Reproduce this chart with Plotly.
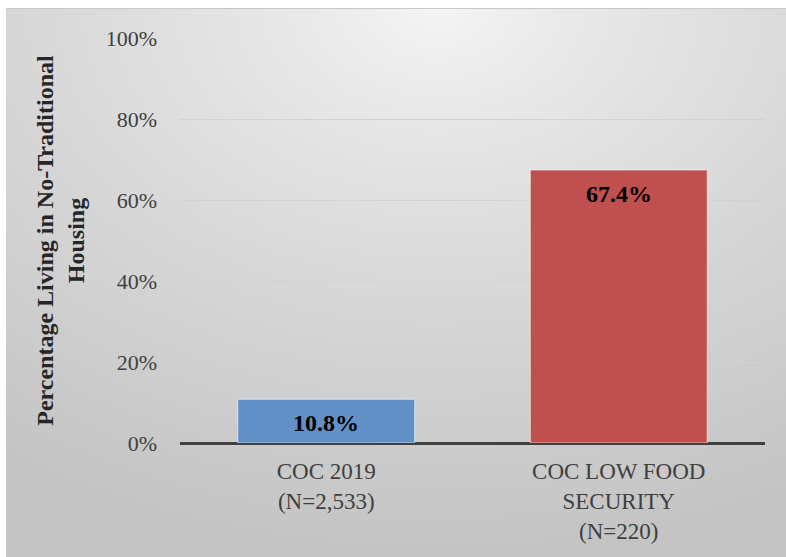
import base64, struct, zlib
import numpy as np
import plotly.graph_objects as go

categories = ["COC 2019<br>(N=2,533)", "COC LOW FOOD<br>SECURITY<br>(N=220)"]
values = [10.8, 67.4]
labels = ["10.8%", "67.4%"]
bar_colors = ["#6290c6", "#c0504f"]
tick_vals = [0, 20, 40, 60, 80, 100]
tick_text = ["0%", "20%", "40%", "60%", "80%", "100%"]

# background gradient image (style only)
W, H = 200, 140
yy, xx = np.mgrid[0:H, 0:W].astype(float)
cx, cy = 0.55 * W, 0.0 * H
d = np.sqrt(((xx - cx) / W) ** 2 + ((yy - cy) / H) ** 2)
d = np.clip(d / 1.0, 0, 1)
v = (246 - (246 - 196) * d ** 0.8).astype(np.uint8)
raw = b"".join(b"\x00" + bytes(np.stack([v[r], v[r], v[r]], axis=1).flatten()) for r in range(H))
def chunk(t, data):
    c = struct.pack(">I", len(data)) + t + data
    return c + struct.pack(">I", zlib.crc32(t + data) & 0xffffffff)
png = b"\x89PNG\r\n\x1a\n" + chunk(b"IHDR", struct.pack(">IIBBBBB", W, H, 8, 2, 0, 0, 0)) + chunk(b"IDAT", zlib.compress(raw)) + chunk(b"IEND", b"")
uri = "data:image/png;base64," + base64.b64encode(png).decode()

L, R, T, B = 180, 21, 38, 114
pw, ph = 786 - L - R, 557 - T - B
def px(x): return (x - L) / pw
def py(y): return (557 - B - y) / ph

fig = go.Figure()
fig.add_trace(go.Bar(
    x=categories, y=values,
    marker=dict(color=bar_colors, line=dict(color="rgba(255,255,255,0.6)", width=1)),
    width=0.605, cliponaxis=False,
))
annotations = [dict(x=c, y=v, text=t, xref="x", yref="y", showarrow=False, yanchor="top", yshift=-9,
                    font=dict(family="Liberation Serif", size=24, color="black", weight="bold"))
               for c, v, t in zip(categories, values, labels)]
fig.update_layout(
    width=786, height=557, margin=dict(l=L, r=R, t=T, b=B),
    paper_bgcolor="white", plot_bgcolor="rgba(0,0,0,0)",
    showlegend=False,
    font=dict(family="Liberation Serif", color="#404040", size=20),
    annotations=annotations,
    images=[dict(source=uri, xref="paper", yref="paper", x=px(6), y=py(8),
                 sizex=px(786) - px(6), sizey=py(8) - py(557), sizing="stretch",
                 xanchor="left", yanchor="top", layer="below")],
    shapes=[dict(type="line", xref="paper", yref="paper", x0=px(6), x1=px(786), y0=py(8.5), y1=py(8.5),
                 line=dict(color="#c8c8c8", width=1), layer="below")],
    xaxis=dict(showgrid=False, showline=False, ticks="", tickfont=dict(size=23, color="#404040"),
               ticklabelstandoff=12),
    yaxis=dict(range=[0, 100], tickvals=tick_vals, ticktext=tick_text, showgrid=True,
               gridcolor="#d2d2d2", gridwidth=1.2, zeroline=True, zerolinecolor="#404040", zerolinewidth=3,
               ticks="", ticklabelstandoff=22, tickfont=dict(size=22, color="#404040"),
               title=dict(text="Percentage Living in No-Traditional<br>Housing", standoff=14,
                          font=dict(size=24, color="#262626", weight="bold"))),
    bargap=0.4,
)
fig.write_html("out.html")
